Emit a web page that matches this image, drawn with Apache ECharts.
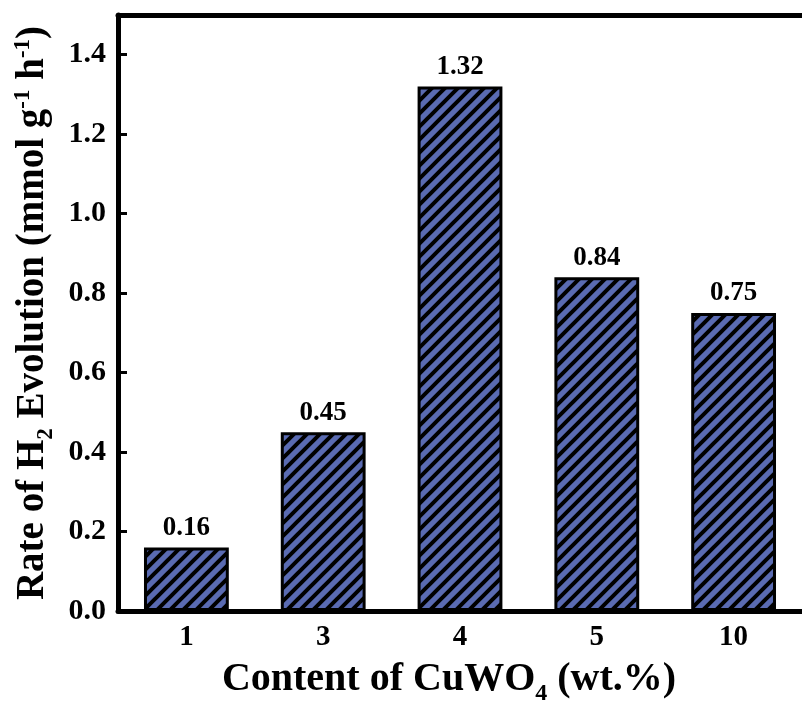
<!DOCTYPE html>
<html>
<head>
<meta charset="utf-8">
<script src="https://cdn.jsdelivr.net/npm/echarts@6/dist/echarts.min.js"></script>
<style>html,body{margin:0;padding:0;background:#fff}#c{width:802px;height:711px}</style>
</head>
<body>
<div id="c"></div>
<script>
const categories = ['1', '3', '4', '5', '10'];
const rates = [0.16, 0.45, 1.32, 0.84, 0.75];
const yTicks = [0, 0.2, 0.4, 0.6, 0.8, 1.0, 1.2, 1.4];

const FONT = '"Liberation Serif","Times New Roman",serif';

function hatch() {
  const s = 13;
  const c = document.createElement('canvas');
  c.width = s; c.height = s;
  const g = c.getContext('2d');
  g.fillStyle = '#5a6bb2';
  g.fillRect(0, 0, s, s);
  g.strokeStyle = '#000';
  g.lineWidth = 4;
  g.beginPath();
  g.moveTo(-3, s + 3); g.lineTo(s + 3, -3);
  g.moveTo(-3, 3); g.lineTo(3, -3);
  g.moveTo(s - 3, s + 3); g.lineTo(s + 3, s - 3);
  g.stroke();
  return c;
}

const chart = echarts.init(document.getElementById('c'));
chart.setOption({
  animation: false,
  backgroundColor: '#fff',
  grid: { left: 118, top: 15, width: 691, height: 596, containLabel: false },
  xAxis: [{
    type: 'category',
    data: categories,
    position: 'bottom',
    axisLine: { show: true, lineStyle: { color: '#000', width: 5 } },
    axisTick: { show: true, inside: true, alignWithLabel: true, length: 8, lineStyle: { color: '#000', width: 3 } },
    axisLabel: { color: '#000', fontFamily: FONT, fontWeight: 'bold', fontSize: 29, margin: 12 },
    name: '{m|Content of CuWO}{s|4}{m| (wt.%)}',
    nameLocation: 'middle',
    nameGap: 47,
    nameTextStyle: {
      padding: [0, 22, 0, 0],
      rich: {
        m: { fontFamily: FONT, fontWeight: 'bold', fontSize: 40, color: '#000', lineHeight: 44 },
        s: { fontFamily: FONT, fontWeight: 'bold', fontSize: 24, color: '#000', verticalAlign: 'top', padding: [24, 0, 0, 0], lineHeight: 24 }
      }
    }
  }, {
    type: 'category',
    data: categories,
    position: 'top',
    axisLine: { show: true, lineStyle: { color: '#000', width: 5 } },
    axisTick: { show: false },
    axisLabel: { show: false }
  }],
  yAxis: {
    type: 'value',
    min: 0, max: 1.5, interval: 0.2,
    splitLine: { show: false },
    axisLine: { show: true, lineStyle: { color: '#000', width: 5 } },
    axisTick: { show: true, inside: true, length: 9, lineStyle: { color: '#000', width: 3 } },
    axisLabel: {
      color: '#000', fontFamily: FONT, fontWeight: 'bold', fontSize: 30, margin: 12,
      formatter: v => (yTicks.some(t => Math.abs(t - v) < 1e-9) ? v.toFixed(1) : '')
    },
    name: '{m|Rate of H}{s|2}{m| Evolution (mmol g}{p|-1}{m| h}{p|-1}{m|)}',
    nameLocation: 'middle',
    nameRotate: 90,
    nameGap: 64,
    nameTextStyle: {
      rich: {
        m: { fontFamily: FONT, fontWeight: 'bold', fontSize: 39, color: '#000', lineHeight: 42 },
        s: { fontFamily: FONT, fontWeight: 'bold', fontSize: 23, color: '#000', verticalAlign: 'top', padding: [23, 0, 0, 0], lineHeight: 23 },
        p: { fontFamily: FONT, fontWeight: 'bold', fontSize: 23, color: '#000', verticalAlign: 'top', lineHeight: 23 }
      }
    }
  },
  series: [{
    type: 'bar',
    data: rates,
    barWidth: '62%',
    itemStyle: {
      color: { image: hatch(), repeat: 'repeat' },
      borderColor: '#000',
      borderWidth: 3
    },
    label: {
      show: true, position: 'top', distance: 6,
      color: '#000', fontFamily: FONT, fontWeight: 'bold', fontSize: 27,
      formatter: p => p.value.toFixed(2)
    }
  }]
});
</script>
</body>
</html>
